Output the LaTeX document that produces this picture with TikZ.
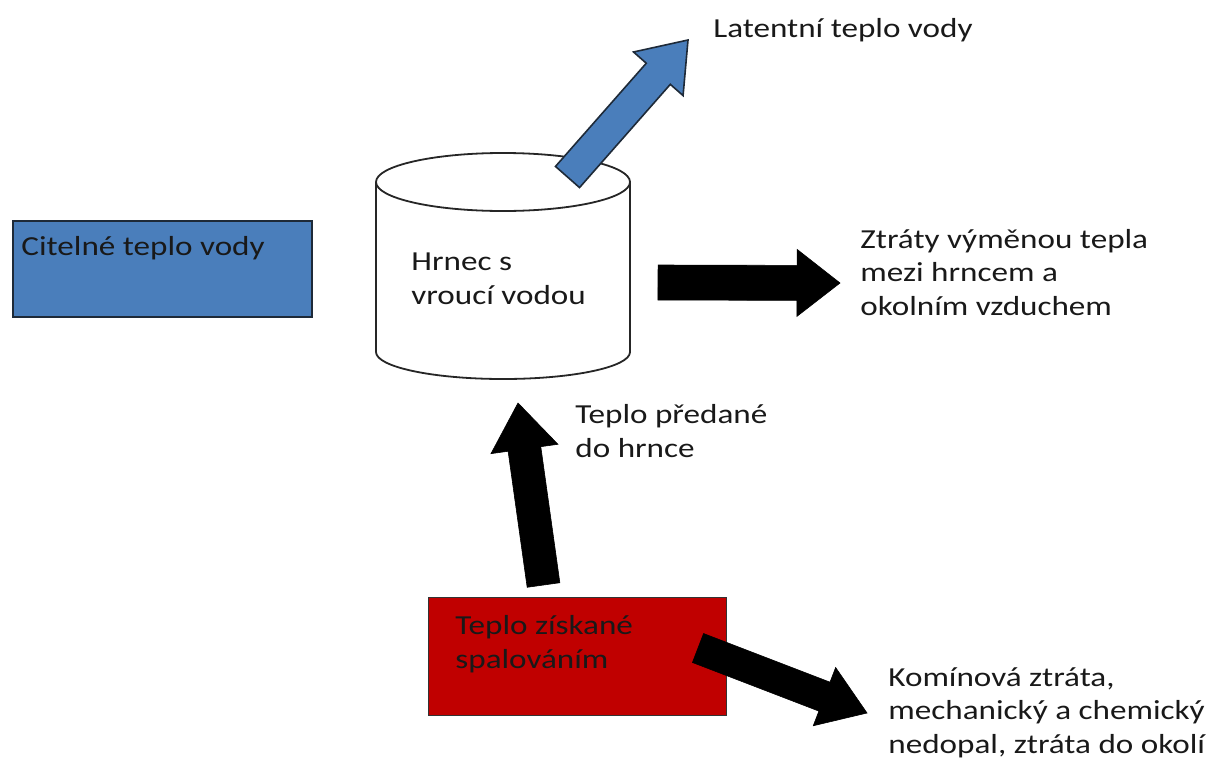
\documentclass[tikz,border=0pt]{standalone}
\usepackage{fontspec}
\setmainfont{Carlito}[FakeStretch=1.205]
\usetikzlibrary{calc}
\definecolor{ofblue}{HTML}{4A7EBB}
\definecolor{ofred}{HTML}{C00000}
\definecolor{edgeblue}{HTML}{1E2A38}
% #1 style, #2 tail, #3 tip, #4 half shaft width, #5 half head width, #6 head length
\newcommand\blockarrow[6]{%
  \coordinate (ba-h) at ($(#3)!#6!(#2)$);
  \path[#1] ($(#2)!#4!90:(#3)$) -- ($(ba-h)!#4!90:(#3)$) -- ($(ba-h)!#5!90:(#3)$)
     -- (#3) -- ($(ba-h)!#5!-90:(#3)$) -- ($(ba-h)!#4!-90:(#3)$)
     -- ($(#2)!#4!-90:(#3)$) -- cycle;
}
\begin{document}
\begin{tikzpicture}[x=0.5pt,y=-0.5pt,
  txt/.style={anchor=base west, inner sep=0pt, align=left, text=black!90,
    font=\fontsize{13.75}{16.75}\selectfont},
  bluebox/.style={fill=ofblue, draw=edgeblue, line width=1pt},
  redbox/.style={fill=ofred, draw=black!80, line width=0.6pt},
  bluearrow/.style={fill=ofblue, draw=edgeblue, line width=0.8pt, line join=miter},
  blackarrow/.style={fill=black, draw=black, line width=0.3pt, line join=miter},
  pot/.style={fill=white, draw=black!85, line width=0.9pt}]
\useasboundingbox (0,0) rectangle (1218,760);

% sensible heat box
\node[bluebox, anchor=north west, minimum width=149.5pt, minimum height=48pt, inner sep=0pt] (citbox) at (12,220) {};

% pot (cylinder)
\coordinate (pot) at (503,182);
\path[pot] (376,182) -- (376,352) arc[start angle=180, end angle=360, x radius=63.5pt, y radius=13.5pt] -- (630,182);
\path[pot] (pot) ellipse [x radius=63.5pt, y radius=14.5pt];

% latent heat arrow
\coordinate (latT) at (567.5,177);
\coordinate (latH) at (688,40);
\blockarrow{bluearrow}{latT}{latH}{8pt}{16.5pt}{22.5pt}

% combustion box
\node[redbox, anchor=north west, minimum width=149pt, minimum height=59pt, inner sep=0pt] (redbox) at (428,597) {};

% black arrows
\coordinate (exT) at (658,282.5);
\coordinate (exH) at (840,283);
\blockarrow{blackarrow}{exT}{exH}{8.75pt}{16.75pt}{21.5pt}

\coordinate (upT) at (543.5,585);
\coordinate (upH) at (518,403);
\blockarrow{blackarrow}{upT}{upH}{8.25pt}{16.9pt}{23.2pt}

\coordinate (loT) at (698,648);
\coordinate (loH) at (867,713);
\blockarrow{blackarrow}{loT}{loH}{7.75pt}{15.6pt}{22.8pt}

% texts (base anchor = baseline of the last line)
\node[txt] (lat) at (713,37) {Latentní teplo vody};
\node[txt] (cit) at (21,255) {Citelné teplo vody};
\node[txt] (hrn) at (411,304) {Hrnec s\\vroucí vodou};
\node[txt] (ztr) at (860,315) {Ztráty výměnou tepla\\mezi hrncem a\\okolním vzduchem};
\node[txt] (pred) at (575,457) {Teplo předané\\do hrnce};
\node[txt] (zisk) at (455,668) {Teplo získané\\spalováním};
\node[txt] (kom) at (888,753) {Komínová ztráta,\\mechanický a chemický\\nedopal, ztráta do okolí};
\end{tikzpicture}
\end{document}
